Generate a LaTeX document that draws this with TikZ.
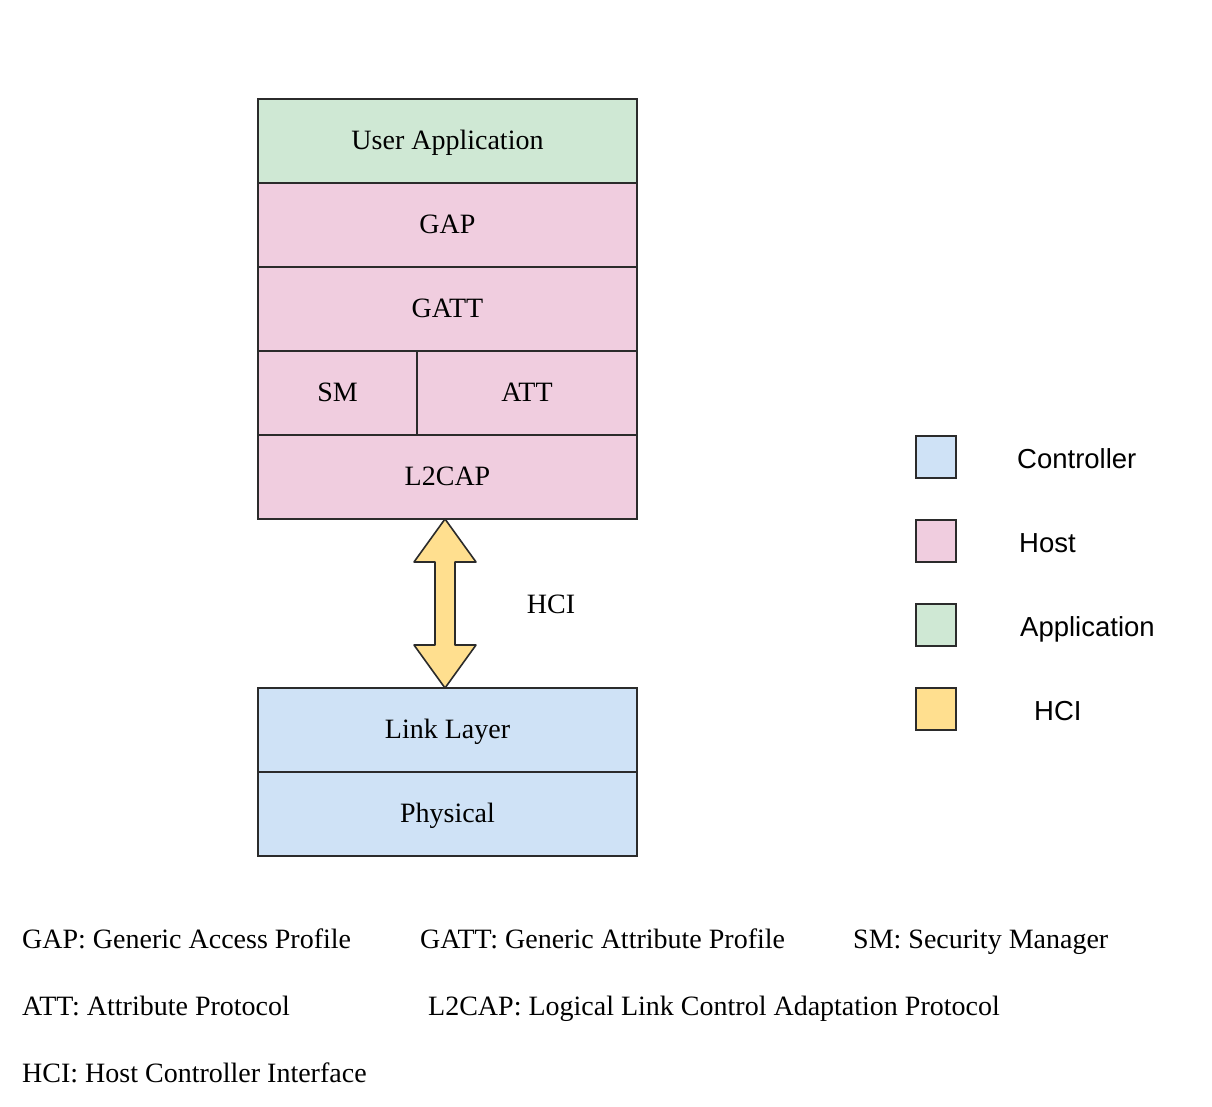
\documentclass[tikz,border=0pt]{standalone}
\usepackage{fontspec}
\setmainfont{Liberation Serif}
\newfontfamily\keyfont{Liberation Sans}
\usetikzlibrary{positioning}
\definecolor{appgreen}{HTML}{CFE8D4}
\definecolor{hostpink}{HTML}{F0CDDF}
\definecolor{ctrlblue}{HTML}{CFE2F6}
\definecolor{hciyellow}{HTML}{FFDF8F}
\definecolor{edgegray}{HTML}{2B2B2B}
\newcommand{\bigtext}{\fontsize{28}{33}\selectfont}
\tikzset{
	layer/.style={draw=edgegray, line width=1.6pt, minimum width=379pt, minimum height=84pt, inner sep=0pt, outer sep=0pt, font=\bigtext, text height=22pt, text depth=5.4pt},
	keybox/.style={draw=edgegray, line width=1.6pt, minimum width=40pt, minimum height=42pt, inner sep=0pt, outer sep=0pt},
	keytext/.style={inner sep=0pt, font=\keyfont\fontsize{27.5}{33}\selectfont, text height=25pt, text depth=2.3pt},
	note/.style={anchor=base west, inner sep=0pt, font=\bigtext},
	hciarrow/.style={draw=edgegray, line width=1.6pt, fill=hciyellow, line join=round},
}

\begin{document}
\begin{tikzpicture}[x=1pt,y=-1pt]
		\useasboundingbox[fill=white] (0,0) rectangle (1212,1107);
		
		% host stack
		\node(UA) [layer, fill=appgreen] at (447.5,141)		{User Application};
		\node(GAP) [layer, fill=hostpink, below=0pt of UA]	{GAP};
		\node(GATT) [layer, fill=hostpink, below=0pt of GAP]	{GATT};
		\node(SM) [layer, fill=hostpink, minimum width=159pt, anchor=north west] at (GATT.south west) {SM};
		\node(ATT) [layer, fill=hostpink, minimum width=220pt, right=0pt of SM] {ATT};
		\node(L2CAP) [layer, fill=hostpink, anchor=north west] at (SM.south west) {L2CAP};
		
		% controller stack
		\node(LL) [layer, fill=ctrlblue] at (447.5,730)		{Link Layer};
		\node(PHY) [layer, fill=ctrlblue, below=0pt of LL]	{Physical};
		
		% HCI arrow
		\draw[hciarrow] ([xshift=-2.5pt]L2CAP.south) -- ++(31,43) -- ++(-21,0) -- ++(0,83) -- ++(21,0) -- ([xshift=-2.5pt]LL.north)
			-- ++(-31,-43) -- ++(21,0) -- ++(0,-83) -- ++(-21,0) -- cycle;
		\node(HCI) [font=\bigtext, inner sep=0pt, text height=22pt, text depth=5.4pt] at (551,605) {HCI};
		
		% legend
		\node(KC) [keybox, fill=ctrlblue] at (936,457) {};
		\node(KH) [keybox, fill=hostpink, below=42pt of KC] {};
		\node(KA) [keybox, fill=appgreen, below=42pt of KH] {};
		\node(KI) [keybox, fill=hciyellow, below=42pt of KA] {};
		\node(KCt) [keytext, right=61pt of KC]	{Controller};
		\node(KHt) [keytext, right=63pt of KH]	{Host};
		\node(KAt) [keytext, right=64pt of KA]	{Application};
		\node(KIt) [keytext, right=78pt of KI]	{HCI};
		
		% abbreviations
		\node(N1) [note] at (22,948)	{GAP: Generic Access Profile};
		\node(N2) [note] at (420,948)	{GATT: Generic Attribute Profile};
		\node(N3) [note] at (853,948)	{SM: Security Manager};
		\node(N4) [note] at (22,1015)	{ATT: Attribute Protocol};
		\node(N5) [note] at (428,1015)	{L2CAP: Logical Link Control Adaptation Protocol};
		\node(N6) [note] at (22,1082)	{HCI: Host Controller Interface};
		
\end{tikzpicture}
\end{document}
